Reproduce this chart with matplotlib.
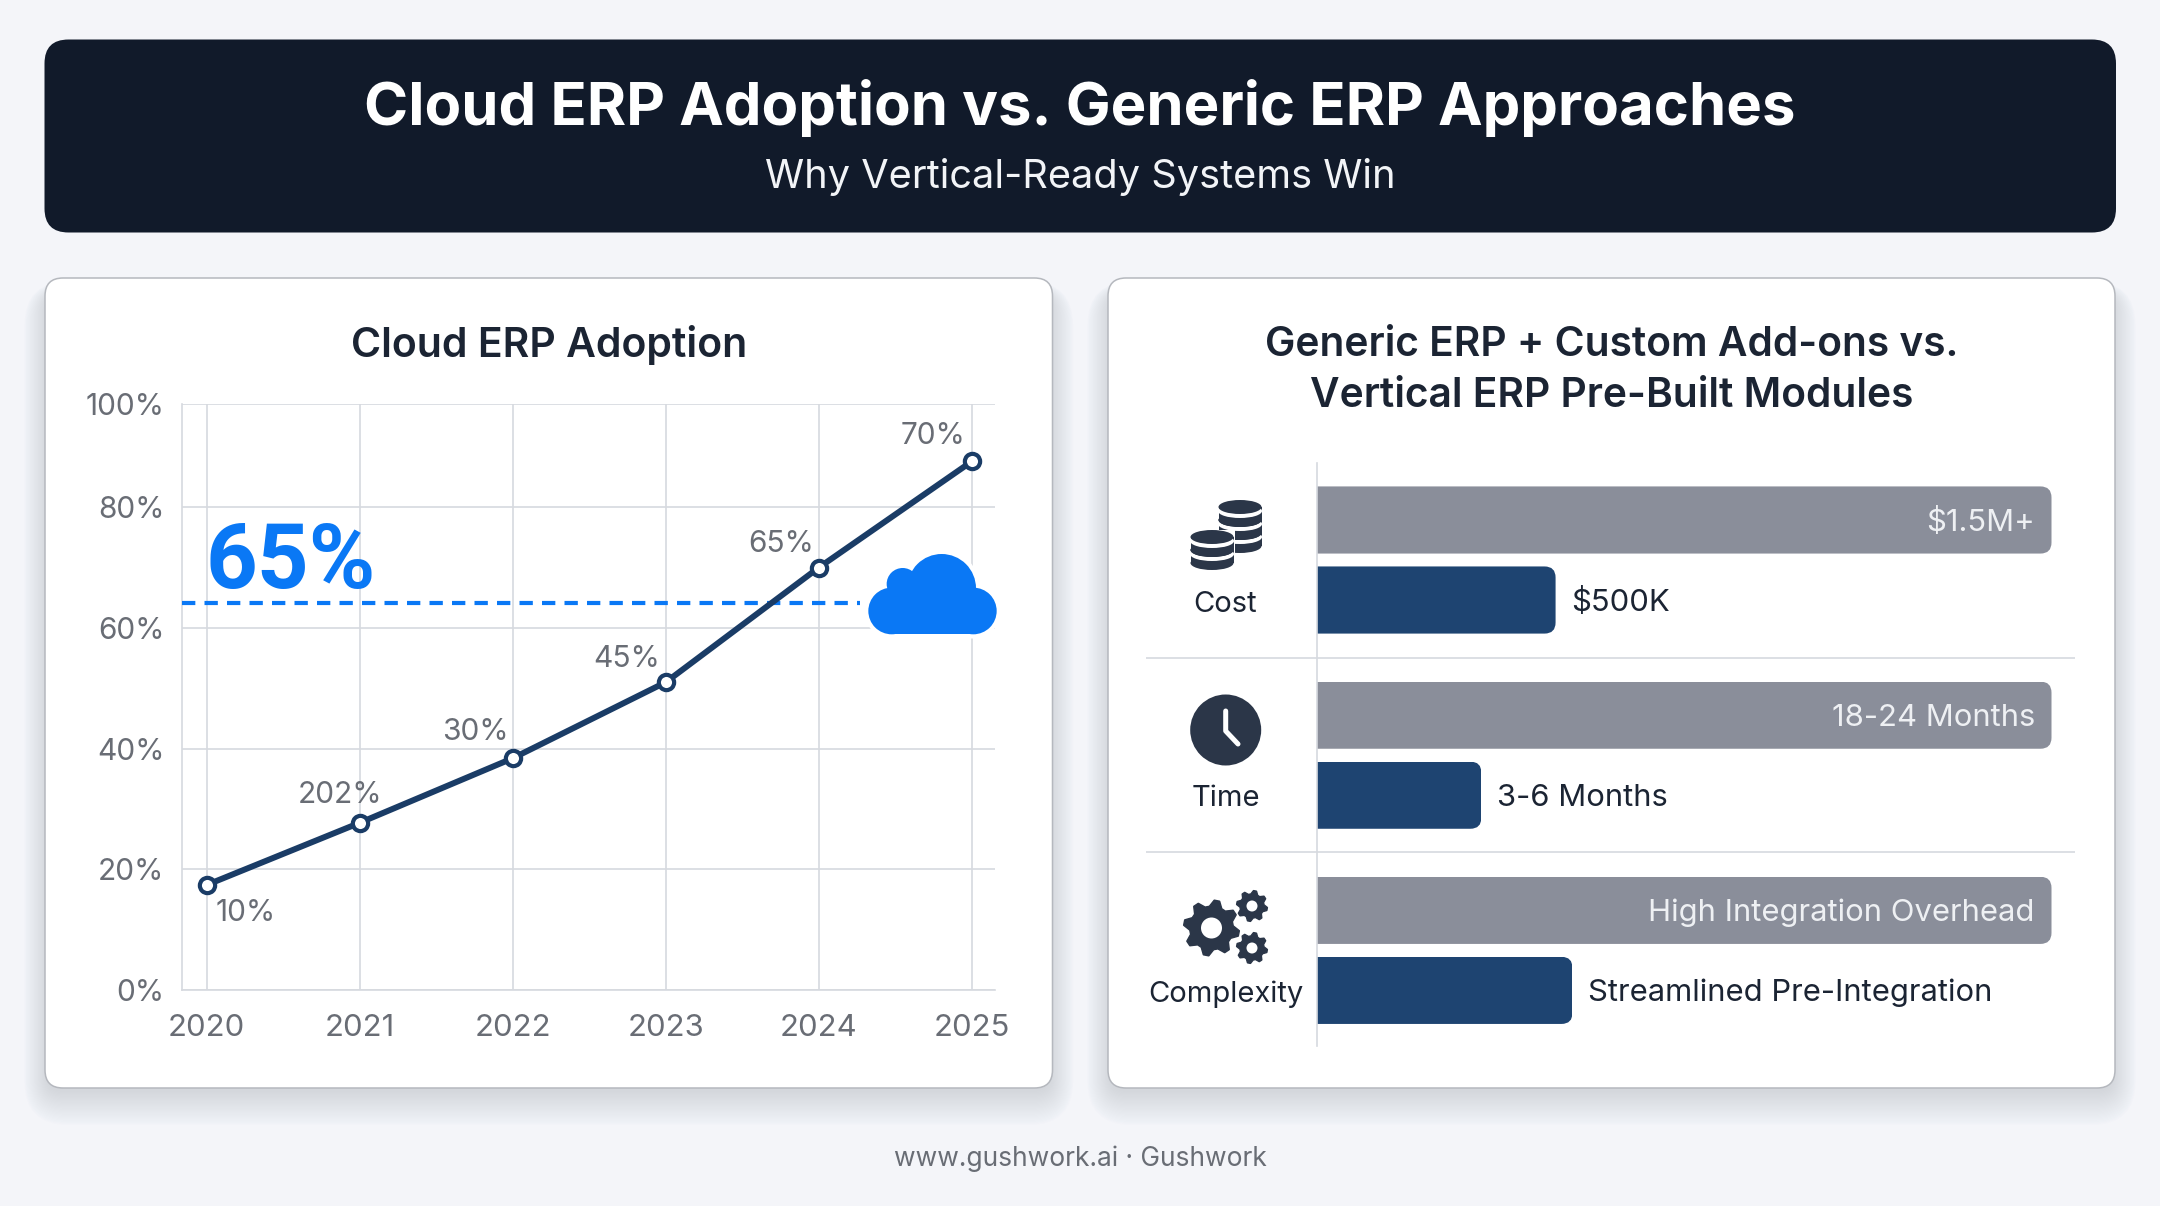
import numpy as np
import matplotlib
matplotlib.use("Agg")
import matplotlib.pyplot as plt
from matplotlib.patches import FancyBboxPatch, Circle, Ellipse, Rectangle, Polygon
from matplotlib.transforms import IdentityTransform

plt.rcParams['font.family'] = ['Inter', 'DejaVu Sans']

# data
years = [2020, 2021, 2022, 2023, 2024, 2025]
adoption = [17.4, 27.7, 38.4, 51.0, 70.0, 87.6]
point_labels = ["10%", "202%", "30%", "45%", "65%", "70%"]
y_ticks = [0, 20, 40, 60, 80, 97.1]
y_tick_labels = ["0%", "20%", "40%", "60%", "80%", "100%"]
callout_value = 64.2
callout_label = "65%"

categories = ["Cost", "Time", "Complexity"]
generic_len = [100, 100, 100]
vertical_len = [32.5, 22.4, 34.8]
generic_labels = ["$1.5M+", "18-24 Months", "High Integration Overhead"]
vertical_labels = ["$500K", "3-6 Months", "Streamlined Pre-Integration"]

W, H = 2160, 1206
BG = "#F4F5F9"
DARK = "#111A2A"
TITLE = "#1B2433"
GRID = "#D6D9DF"
TICK = "#696D75"
NAVY = "#1A3C66"
BARNAVY = "#1E4471"
BARGRAY = "#8A8E9A"
BLUE = "#0A78F5"
ICON = "#2B3648"

fig = plt.figure(figsize=(W / 100, H / 100), dpi=100, facecolor=BG)


def px_axes(z):
    a = fig.add_axes([0, 0, 1, 1], zorder=z)
    a.set_xlim(0, W)
    a.set_ylim(H, 0)
    a.axis("off")
    a.patch.set_alpha(0)
    return a


def box_axes(x0, y0, x1, y1, z):
    return fig.add_axes([x0 / W, 1 - y1 / H, (x1 - x0) / W, (y1 - y0) / H], zorder=z)


def rbox(a, x0, y0, x1, y1, r, **kw):
    p = FancyBboxPatch((x0, y0), x1 - x0, y1 - y0, boxstyle=f"round,pad=0,rounding_size={r}", **kw)
    a.add_patch(p)
    return p


back = px_axes(0)
top = px_axes(5)

# header
rbox(back, 44.5, 39.5, 2116, 232.5, 24, fc=DARK, ec="none")
back.text(1080, 108, "Cloud ERP Adoption vs. Generic ERP Approaches", color="white", fontsize=43.1,
          fontweight="bold", ha="center", va="center")
back.text(1080, 177, "Why Vertical-Ready Systems Win", color="#F2F4F7", fontsize=28.6, ha="center", va="center")

# cards with a soft shadow
for x0, x1 in [(45, 1052.5), (1108, 2115)]:
    for grow in range(26, -3, -1):
        rbox(back, x0 - grow * 0.8, 292 - grow * 0.4, x1 + grow * 0.8, 1094 + grow * 1.2, 18 + max(grow, 0),
             fc="#70747C", ec="none", alpha=0.0085)
    rbox(back, x0, 278, x1, 1088, 18, fc="white", ec="#B5B8BE", lw=1.1)

back.text(549, 345, "Cloud ERP Adoption", color=TITLE, fontsize=29.5, fontweight="semibold", ha="center", va="center")
back.text(1612, 345, "Generic ERP + Custom Add-ons vs.", color=TITLE, fontsize=29.3, fontweight="semibold", ha="center", va="center")
back.text(1612, 396, "Vertical ERP Pre-Built Modules", color=TITLE, fontsize=29.3, fontweight="semibold", ha="center", va="center")
back.text(1080, 1159, "www.gushwork.ai · Gushwork", color=TICK, fontsize=19, ha="center", va="center")

# line chart
ax = box_axes(181.8, 404, 995.3, 990, 2)
ax.patch.set_alpha(0)
ax.set_xlim(2020 - 18 / 111.2, 2025 + 17 / 111.2)
ax.set_ylim(0, 97.1)
ax.set_xticks(years)
ax.set_xticklabels([str(y) for y in years])
ax.set_yticks(y_ticks)
ax.set_yticklabels(y_tick_labels)
ax.tick_params(length=0, labelcolor=TICK)
ax.tick_params(axis="x", pad=17, labelsize=22.3)
ax.tick_params(axis="y", pad=12.5, labelsize=21.5)
ax.grid(True, color=GRID, lw=1.2)
ax.set_axisbelow(True)
for s in ["top", "right"]:
    ax.spines[s].set_visible(False)
for s in ["left", "bottom"]:
    ax.spines[s].set_color(GRID)
    ax.spines[s].set_linewidth(1.2)
ax.plot([2019.84, 2024.27], [callout_value, callout_value], color=BLUE, lw=3, dashes=(3.2, 2.2), zorder=3)
ax.plot(years, adoption, color=NAVY, lw=4.3, marker="o", ms=11, mfc="white", mec=NAVY, mew=3, zorder=4)
label_offsets = [(28, -20), (-14, 20), (-27, 19), (-28, 17), (-27, 17), (-28, 18)]
for x, y, t, off in zip(years, adoption, point_labels, label_offsets):
    ax.annotate(t, (x, y), xytext=off, textcoords="offset points", ha="center", va="center",
                fontsize=21.5, color=TICK, zorder=5)
ax.text(2019.995, 66.6, callout_label, color=BLUE, fontsize=65, fontweight="bold", family="Roboto",
        ha="left", va="baseline", zorder=5)

# cloud icon
cloud = [(840 + 155 / 3, 520 + 272 / 2.99, 70 / 3), (840 + 400 / 3, 520 + 272 / 2.99, 70 / 3),
         (840 + 305 / 3, 520 + 205 / 3, 103 / 3), (840 + 188 / 3, 520 + 192 / 3, 48 / 3)]
for fc, ec, lw in [("white", "white", 6), (BLUE, "none", 0)]:
    for cx, cy, r in cloud:
        top.add_patch(Circle((cx, cy), r, fc=fc, ec=ec, lw=lw))
    top.add_patch(Rectangle((cloud[0][0], 587), cloud[1][0] - cloud[0][0], 47, fc=fc, ec=ec, lw=lw))

# bars
bx = box_axes(1316.8, 463, 2051.5, 1046, 2)
bx.patch.set_alpha(0)
bx.set_xlim(0, 100)
bx.set_ylim(2.49, -0.497)
bx.set_xticks([])
bx.set_yticks([])
for s in ["top", "right", "bottom"]:
    bx.spines[s].set_visible(False)
bx.spines["left"].set_color(GRID)
bx.spines["left"].set_linewidth(1.2)
bx.spines["left"].set_zorder(6)
pos = np.arange(len(categories))
bars_g = bx.barh(pos - 0.205, generic_len, height=0.344, color=BARGRAY)
bars_v = bx.barh(pos + 0.205, vertical_len, height=0.344, color=BARNAVY)
fig.canvas.draw()
for bar in list(bars_g) + list(bars_v):
    (xa, ya), (xb, yb) = bx.transData.transform([(bar.get_x(), bar.get_y()), (bar.get_x() + bar.get_width(), bar.get_y() + bar.get_height())])
    ya, yb = min(ya, yb), max(ya, yb)
    clip = FancyBboxPatch((xa - 30, ya), xb - xa + 30, yb - ya, boxstyle="round,pad=0,rounding_size=11", transform=IdentityTransform())
    bar.set_clip_path(clip)
for i in range(len(categories)):
    bx.annotate(generic_labels[i], (generic_len[i], pos[i] - 0.205), xytext=(-12, -2), textcoords="offset points",
                ha="right", va="center", color="#EEF0F3", fontsize=22.3)
    bx.annotate(vertical_labels[i], (vertical_len[i], pos[i] + 0.205), xytext=(11, -2), textcoords="offset points",
                ha="left", va="center", color=TITLE, fontsize=22.3)
for yy in [657.5, 852]:
    back.plot([1146, 2074.5], [yy, yy], color=GRID, lw=1.2, solid_capstyle="butt")
for cat, yy in zip(categories, [604, 799, 994]):
    back.text(1225.5, yy, cat, color=TITLE, fontsize=21, ha="center", va="center")


# icons
def coin_stack(cx, y0, n):
    w, h, dy, g = 43, 14, 13, 4
    for i in range(n - 1, -1, -1):
        yc = y0 + i * dy
        back.add_patch(Ellipse((cx, yc + dy), w, h, fc=ICON, ec="none"))
        back.add_patch(Rectangle((cx - w / 2, yc), w, dy, fc=ICON, ec="none"))
        back.add_patch(Ellipse((cx, yc + g), w + 1, h, fc="white", ec="none"))
        back.add_patch(Ellipse((cx, yc), w, h, fc=ICON, ec="none"))


def gear(cx, cy, r_out, r_hole, teeth=8):
    r_in = r_out * 0.78
    ang = np.linspace(0, 2 * np.pi, teeth * 4, endpoint=False) + np.pi / teeth / 4
    rad = np.tile([r_out, r_out, r_in, r_in], teeth)
    back.add_patch(Polygon(np.c_[cx + rad * np.cos(ang), cy + rad * np.sin(ang)], closed=True, fc=ICON, ec=ICON, lw=1, joinstyle="round"))
    back.add_patch(Circle((cx, cy), r_hole, fc="white", ec="none"))


coin_stack(1240, 507, 3)
back.add_patch(Rectangle((1190, 530), 45, 48, fc="white", ec="none"))
coin_stack(1212, 537, 2)
back.add_patch(Circle((1225.7, 730), 35.5, fc=ICON, ec="none"))
back.plot([1225.7, 1225.7, 1238], [711, 731, 744], color="white", lw=3.6, solid_capstyle="round", solid_joinstyle="round")
gear(1211.5, 928, 28, 10.5)
gear(1252, 906, 15.5, 5.5)
gear(1252, 948, 15.5, 5.5)

fig.savefig("out.png", dpi=100, facecolor=BG)
